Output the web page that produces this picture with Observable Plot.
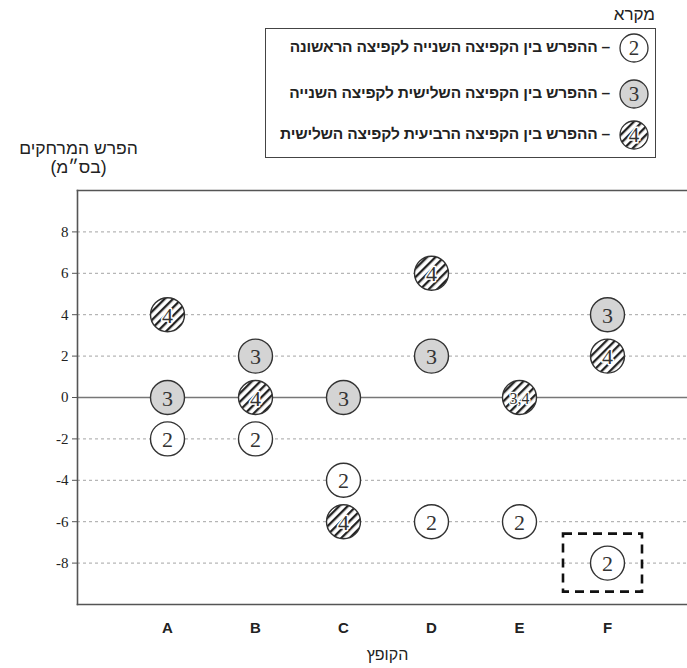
<!DOCTYPE html>
<html><head><meta charset="utf-8">
<script src="https://cdn.jsdelivr.net/npm/d3@7"></script>
<script src="https://cdn.jsdelivr.net/npm/@observablehq/plot@0.6"></script>
<style>
body{margin:0;background:#fff;font-family:"Liberation Sans",Arial,sans-serif;}
#wrap{position:relative;width:687px;height:668px;overflow:hidden;background:#fff;}
#head{position:absolute;left:0;top:0;width:687px;height:180px;z-index:2;}
.abs{position:absolute;}
#legbox{left:265px;top:28px;width:391px;height:130px;border:1.5px solid #444;box-sizing:border-box;}
.legtxt{direction:rtl;text-align:right;font-size:15.5px;color:#222;white-space:nowrap;font-weight:bold;letter-spacing:-0.2px;}
#chart{position:absolute;left:0;top:130px;z-index:1;}
#chart svg{max-width:none !important;}
</style></head>
<body><div id="wrap"><div id="chart"></div><div id="head"></div></div>
<script>
// ---- data ----
const jumpers = ["A","B","C","D","E","F"];
const diff2to1 = [-2,-2,-4,-6,-6,-8];
const diff3to2 = [0,2,0,2,0,4];
const diff4to3 = [4,0,-6,6,0,2];
const yTicks = [-8,-6,-4,-2,0,2,4,6,8];
const highlighted = ["F"];
const legendLabels = [
  "– ההפרש בין הקפיצה השנייה לקפיצה הראשונה",
  "– ההפרש בין הקפיצה השלישית לקפיצה השנייה",
  "– ההפרש בין הקפיצה הרביעית לקפיצה השלישית"
];
const legendMarks = ["2","3","4"];
const legendTitle = "מקרא";
const yTitle = ["הפרש המרחקים","(בס״מ)"];
const xTitle = "הקופץ";

const SERIF = '"Liberation Serif", "DejaVu Serif", "Times New Roman", serif';
const fills = {plain:"white", gray:"#d4d4d4", hatch:"url(#hatch)"};

const points = [];
jumpers.forEach((j,i)=>{
  points.push({jumper:j, value:diff2to1[i], label:"2", kind:"plain"});
  if (diff3to2[i] === diff4to3[i]) {
    points.push({jumper:j, value:diff3to2[i], label:"3,4", kind:"hatch"});
  } else {
    points.push({jumper:j, value:diff3to2[i], label:"3", kind:"gray"});
    points.push({jumper:j, value:diff4to3[i], label:"4", kind:"hatch"});
  }
});
const boxed = points.filter(d => d.label === "2" && highlighted.includes(d.jumper));

const R = 17;
const marks = [
  Plot.gridY(yTicks.filter(d=>d!==0), {stroke:"#9a9a9a", strokeOpacity:1, strokeDasharray:"3,3", strokeWidth:0.9}),
  Plot.ruleY([0], {stroke:"#777", strokeWidth:1.6}),
  Plot.frame({anchor:"left", stroke:"#555", strokeWidth:1.6}),
  Plot.frame({anchor:"top", stroke:"#555", strokeWidth:1.6}),
  Plot.frame({anchor:"bottom", stroke:"#555", strokeWidth:1.6}),
  Plot.axisY(yTicks, {tickSize:5, tickPadding:4, fontSize:15, fontFamily:SERIF, tickFormat:d=>String(d), label:null, stroke:"#555", color:"#222"}),
  Plot.axisX({tickSize:0, tickPadding:18, fontFamily:"Liberation Sans", fontWeight:"bold", fontSize:15, label:null, color:"#222"}),
  Plot.text([xTitle], {frameAnchor:"bottom", dy:55, fontFamily:"Liberation Sans", fontSize:16, fill:"#222"}),
  ...["plain","gray","hatch"].map(k => Plot.dot(points.filter(d=>d.kind===k), {x:"jumper", y:"value", r:R, fill:fills[k], stroke:"#333", strokeWidth:1.4})),
  Plot.text(points.filter(d=>d.label.length===1), {x:"jumper", y:"value", text:"label", fontSize:22, fontFamily:SERIF, fill:"#333", stroke:d=>d.kind==="hatch"?"white":"none", strokeWidth:3, dy:1}),
  Plot.text(points.filter(d=>d.label.length>1), {x:"jumper", y:"value", text:"label", fontSize:16, fontFamily:SERIF, fill:"#333", stroke:"white", strokeWidth:2.5, dy:1}),
  Plot.rect(boxed, {x1:"jumper", x2:"jumper", y1:"value", y2:"value", insetLeft:-44, insetRight:-35, insetTop:-29, insetBottom:-29, fill:"none", stroke:"#111", strokeWidth:2.6, strokeDasharray:"9,6"})
];

const chart = Plot.plot({
  width:697, height:538,
  marginTop:60, marginBottom:64, marginLeft:77, marginRight:0,
  x:{type:"point", domain:jumpers, padding:1},
  y:{domain:[-10,10]},
  style:{background:"transparent", overflow:"visible", maxWidth:"none"},
  marks
});

// serif for tick numbers and circle labels (inline style)
d3.select(chart).selectAll('g[aria-label="y-axis tick label"] text').style("font-family", SERIF);
d3.select(chart).selectAll('g[aria-label="text"] text').filter(function(){ return this.textContent !== xTitle; }).style("font-family", SERIF);

// hatch pattern definition
const defs = d3.select(chart).insert("defs", ":first-child");
const pat = defs.append("pattern").attr("id","hatch").attr("patternUnits","userSpaceOnUse")
  .attr("width",6).attr("height",6).attr("patternTransform","rotate(45)");
pat.append("rect").attr("width",6).attr("height",6).attr("fill","white");
pat.append("rect").attr("width",2.3).attr("height",6).attr("fill","#222");
document.getElementById("chart").appendChild(chart);

// header: legend and y title
const head = d3.select("#head");
head.append("div").attr("class","abs").style("right","32px").style("top","5px")
  .style("font-size","17px").style("color","#222").style("direction","rtl").text(legendTitle);
head.append("div").attr("class","abs").attr("id","legbox");
const rowsY = [48, 94, 135];
legendLabels.forEach((t,i)=>{
  head.append("div").attr("class","abs legtxt").style("right", (687-610)+"px").style("top",(rowsY[i]-10)+"px").text(t);
  const s = head.append("svg").attr("class","abs").style("left",(634-16)+"px").style("top",(rowsY[i]-16)+"px")
    .attr("width",32).attr("height",32);
  const f = i===0?fills.plain:(i===1?fills.gray:fills.hatch);
  s.append("circle").attr("cx",16).attr("cy",16).attr("r",14).attr("fill",f).attr("stroke","#333").attr("stroke-width",1.3);
  s.append("text").attr("x",16).attr("y",23).attr("text-anchor","middle").style("font-family", SERIF)
    .attr("font-size",21).attr("fill","#333").attr("stroke", i===2?"white":"none").attr("stroke-width",3).attr("paint-order","stroke").text(legendMarks[i]);
});
yTitle.forEach((t,i)=>{
  head.append("div").attr("class","abs").style("left","0px").style("width","157px").style("text-align","center")
    .style("top",(139+i*19)+"px").style("font-size","17.5px").style("color","#222").style("direction","rtl").style("line-height","18px").text(t);
});
</script></body></html>
